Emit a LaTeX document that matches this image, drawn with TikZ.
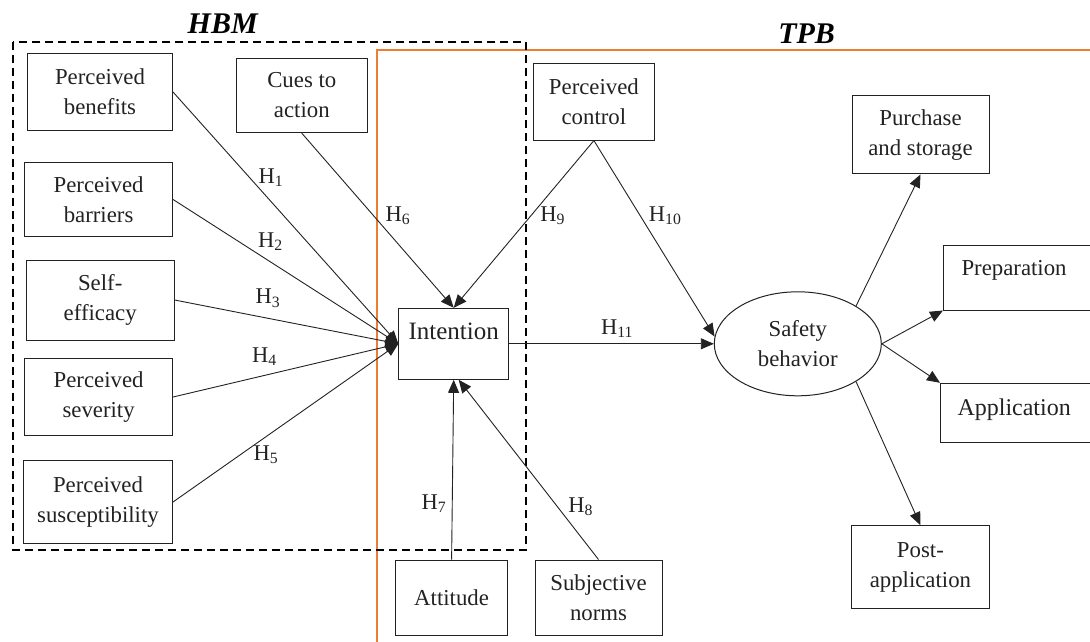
\documentclass[tikz,border=0pt]{standalone}
\usepackage{fontspec}
\setmainfont{Liberation Serif}
\usetikzlibrary{arrows.meta,shapes.geometric}
\definecolor{tpborange}{HTML}{ED7D31}
\definecolor{ink}{HTML}{222222}
\newcommand\upby[2]{\raisebox{#1}[\height][\depth]{#2}}
\begin{document}
\begin{tikzpicture}[x=1pt,y=-1pt,
  box/.style={draw=ink, line width=1pt, inner sep=0pt, align=center,
              font=\fontsize{22.8}{30}\selectfont, text=ink},
  conn/.style={draw=ink, line width=0.9pt, -{Triangle[length=13pt,width=11pt]}},
  hyp/.style={font=\fontsize{22.5}{26}\selectfont, inner sep=0pt, text=ink},
  frametitle/.style={font=\fontsize{30}{34}\selectfont\bfseries\itshape, inner sep=0pt}]
\useasboundingbox (0,0) rectangle (1090,642);
\clip (0,0) rectangle (1090,642);

% frames
\draw[tpborange, line width=2.4pt] (377,700) -- (377,50) -- (1120,50);
\draw[black, line width=2pt, dash pattern=on 8pt off 5pt] (13.3,41.7) rectangle (526,550);
\node[frametitle] (hbm) at (222.7,23.3) {HBM};
\node[frametitle] (tpb) at (806.6,33.3) {TPB};

% HBM boxes
\node[box, minimum width=145pt, minimum height=76pt] (ben) at (100,92) {Perceived\\benefits};
\node[box, minimum width=131.6pt, minimum height=74.4pt] (cue) at (301.8,95.5) {Cues to\\action};
\node[box, minimum width=148pt, minimum height=74.4pt] (bar) at (98.6,199.5) {Perceived\\barriers};
\node[box, minimum width=147.7pt, minimum height=80pt] (eff) at (100.2,300) {Self-\\efficacy};
\node[box, minimum width=148pt, minimum height=77.4pt] (sev) at (98.6,397) {Perceived\\severity};
\node[box, minimum width=149pt, minimum height=82.6pt] (sus) at (98,502) {Perceived\\susceptibility};

% centre
\node[box, font=\fontsize{25}{28}\selectfont, minimum width=109.8pt, minimum height=71pt] (int) at (453.7,343.8) {\upby{12pt}{Intention}};
\node[box, minimum width=111.8pt, minimum height=75pt] (att) at (451.6,597.5) {Attitude};
\node[box, minimum width=127pt, minimum height=75pt] (sub) at (598.5,597.5) {Subjective\\norms};
\node[box, minimum width=121.7pt, minimum height=76.7pt] (ctl) at (593.9,101.7) {Perceived\\control};

% behaviour
\node[box, ellipse, minimum width=167pt, minimum height=104pt] (saf) at (797.8,343.8) {Safety\\behavior};
\node[box, minimum width=137pt, minimum height=78.3pt] (pur) at (920.5,134.8) {Purchase\\and storage};
\node[box, anchor=west, align=left, text width=130pt, inner xsep=18pt, inner ysep=0pt, minimum height=65pt] (prep) at (943,277.5) {\upby{7pt}{Preparation}};
\node[box, anchor=west, align=left, text width=130pt, inner xsep=17pt, inner ysep=0pt, minimum height=59.4pt, font=\fontsize{24}{28}\selectfont] (app) at (940,413) {\upby{3pt}{Application}};
\node[box, minimum width=137.8pt, minimum height=83pt] (post) at (920.4,567.2) {Post-\\application};

% connectors
\draw[conn] (ben.east) -- (int.west);
\draw[conn] (bar.east) -- (int.west);
\draw[conn] (eff.east) -- (int.west);
\draw[conn] (sev.east) -- (int.west);
\draw[conn] (sus.east) -- (int.west);
\draw[conn] (cue.south) -- (int.north);
\draw[conn] (ctl.south) -- (int.north);
\draw[conn] (att.north) -- (int.south);
\draw[conn] (sub.north) -- ([xshift=5pt]int.south);
\draw[conn] (int.east) -- (saf.west);
\draw[conn] (ctl.south) -- (saf.175);
\draw[conn] (saf.33) -- (pur.south);
\draw[conn] (saf.east) -- (prep.south west);
\draw[conn] (saf.east) -- (app.north west);
\draw[conn] (saf.-33) -- (post.north);

% hypothesis labels
\node[hyp] (h1) at (271,178) {H\textsubscript{1}};
\node[hyp] (h2) at (270.4,241.7) {H\textsubscript{2}};
\node[hyp] (h3) at (268,298.3) {H\textsubscript{3}};
\node[hyp] (h4) at (264.5,356.7) {H\textsubscript{4}};
\node[hyp] (h5) at (266,455) {H\textsubscript{5}};
\node[hyp] (h6) at (398,216) {H\textsubscript{6}};
\node[hyp] (h7) at (434,503.3) {H\textsubscript{7}};
\node[hyp] (h8) at (580.7,506.7) {H\textsubscript{8}};
\node[hyp] (h9) at (552.6,216) {H\textsubscript{9}};
\node[hyp] (h10) at (665.2,216) {H\textsubscript{10}};
\node[hyp] (h11) at (617,328.3) {H\textsubscript{11}};
\end{tikzpicture}
\end{document}
